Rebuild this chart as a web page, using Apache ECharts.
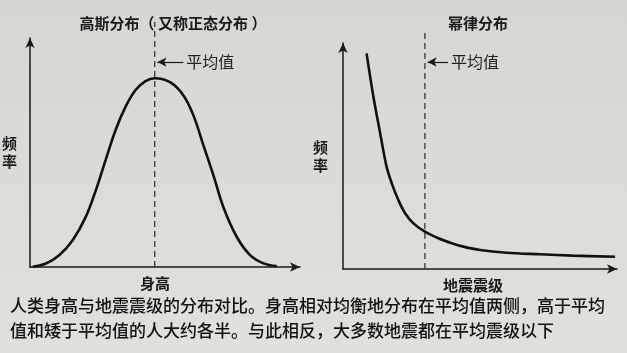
<!DOCTYPE html>
<html>
<head>
<meta charset="utf-8">
<script src="https://cdn.jsdelivr.net/npm/echarts@6/dist/echarts.min.js"></script>
<style>
html, body { margin: 0; padding: 0; }
#chart { width: 627px; height: 353px; }
</style>
</head>
<body>
<div id="chart"></div>
<script>
// 高斯分布（身高）
var gaussX = [1.0, 5.9, 10.8, 15.8, 20.7, 24.4, 28.0, 31.7, 35.4, 39.1, 42.8, 46.2, 52.0, 56.9, 60.6, 64.3, 68.0, 71.7, 76.6, 81.5, 86.5, 91.4];
var gaussY = [0.1, 1.5, 5.1, 11.7, 22.0, 33.6, 46.7, 59.8, 70.0, 77.3, 81.2, 82.4, 80.6, 74.8, 66.0, 52.9, 39.8, 25.9, 13.1, 5.2, 1.6, 0.4];
var gaussMean = 46.2;

// 幂律分布（地震震级）
var powerX = [8.6, 11.1, 13.5, 15.9, 17.8, 20.2, 22.6, 25.7, 29.9, 34.8, 39.7, 43.9, 50.0, 59.7, 71.9, 83.9, 99.3];
var powerY = [95.4, 76.2, 60.5, 45.3, 37.9, 30.5, 24.8, 20.2, 16.5, 13.6, 11.4, 9.9, 8.4, 7.2, 6.5, 5.9, 5.4];
var powerMean = 29.9;

var titles = ['高斯分布（ 又称正态分布 ）', '幂律分布'];
var xNames = ['身高', '地震震级'];
var yName = '频\n率';
var meanLabel = '平均值';
var caption = '人类身高与地震震级的分布对比。身高相对均衡地分布在平均值两侧，高于平均\n值和矮于平均值的人大约各半。与此相反，大多数地震都在平均震级以下';

function zip(xs, ys) {
    var out = [];
    for (var i = 0; i < xs.length; i++) {
        out.push([xs[i], ys[i]]);
    }
    return out;
}

var font = 'Noto Sans CJK SC';

function makeX(idx, padRight) {
    return {
        type: 'value', gridIndex: idx, min: 0, max: 100,
        name: xNames[idx], nameLocation: 'middle', nameGap: 9,
        nameTextStyle: { fontFamily: font, fontSize: 15, fontWeight: 'bold', color: '#1a1a1a', padding: [0, padRight, 0, 0] },
        axisLine: { show: true, symbol: ['none', 'arrow'], symbolSize: [7, 10], lineStyle: { color: '#1a1a1a', width: 1.5 } },
        axisTick: { show: false }, axisLabel: { show: false }, splitLine: { show: false }
    };
}

function makeY(idx, gap) {
    return {
        type: 'value', gridIndex: idx, min: 0, max: 100,
        name: yName, nameLocation: 'middle', nameGap: gap, nameRotate: 0,
        nameTextStyle: { fontFamily: font, fontSize: 15, fontWeight: 'bold', color: '#1a1a1a', lineHeight: 18 },
        axisLine: { show: true, symbol: ['none', 'arrow'], symbolSize: [7, 10], lineStyle: { color: '#1a1a1a', width: 1.5 } },
        axisTick: { show: false }, axisLabel: { show: false }, splitLine: { show: false }
    };
}

// 平均值虚线 + 指示箭头
function meanSeries(idx, mean, top, arrowFrom, arrowY) {
    return {
        type: 'line', xAxisIndex: idx, yAxisIndex: idx,
        data: [[mean, 0], [mean, top]],
        clip: false, symbol: 'none', silent: true,
        lineStyle: { color: '#2a2a2a', width: 1.2, type: [6, 4] },
        markLine: {
            silent: true, animation: false,
            symbol: ['none', 'arrow'], symbolSize: [7, 9],
            lineStyle: { color: '#1a1a1a', width: 1.2, type: 'solid' },
            label: { show: true, position: 'start', distance: 3, formatter: meanLabel, fontFamily: font, fontSize: 16, color: '#222' },
            data: [[{ coord: [arrowFrom, arrowY] }, { coord: [mean + 1, arrowY] }]]
        }
    };
}

var chart = echarts.init(document.getElementById('chart'));
var option = {
    animation: false,
    backgroundColor: {
        type: 'linear', x: 0, y: 0, x2: 0, y2: 1,
        colorStops: [{ offset: 0, color: '#d6d6d2' }, { offset: 1, color: '#e0e0dc' }]
    },
    title: [
        { text: titles[0], left: 168, top: 11, textAlign: 'center', textStyle: { fontFamily: font, fontSize: 15, fontWeight: 'bold', color: '#1a1a1a' } },
        { text: titles[1], left: 473, top: 11, textAlign: 'center', textStyle: { fontFamily: font, fontSize: 15, fontWeight: 'bold', color: '#1a1a1a' } },
        { text: caption, left: 5, top: 288, textStyle: { fontFamily: font, fontSize: 17, fontWeight: 500, color: '#111', lineHeight: 25 } }
    ],
    grid: [
        { left: 29, top: 38, width: 271, height: 229 },
        { left: 343, top: 43, width: 274, height: 226 }
    ],
    xAxis: [makeX(0, 20), makeX(1, 14)],
    yAxis: [makeY(0, 13), makeY(1, 15)],
    series: [
        {
            type: 'line', xAxisIndex: 0, yAxisIndex: 0,
            data: zip(gaussX, gaussY), smooth: 0.35, symbol: 'none',
            lineStyle: { color: '#111', width: 2.6 }
        },
        {
            type: 'line', xAxisIndex: 1, yAxisIndex: 1,
            data: zip(powerX, powerY), smooth: 0.35, symbol: 'none',
            lineStyle: { color: '#111', width: 2.6 }
        },
        meanSeries(0, gaussMean, 107, 56.8, 89.5),
        meanSeries(1, powerMean, 105, 38.3, 91.6)
    ]
};
chart.setOption(option);
</script>
</body>
</html>
